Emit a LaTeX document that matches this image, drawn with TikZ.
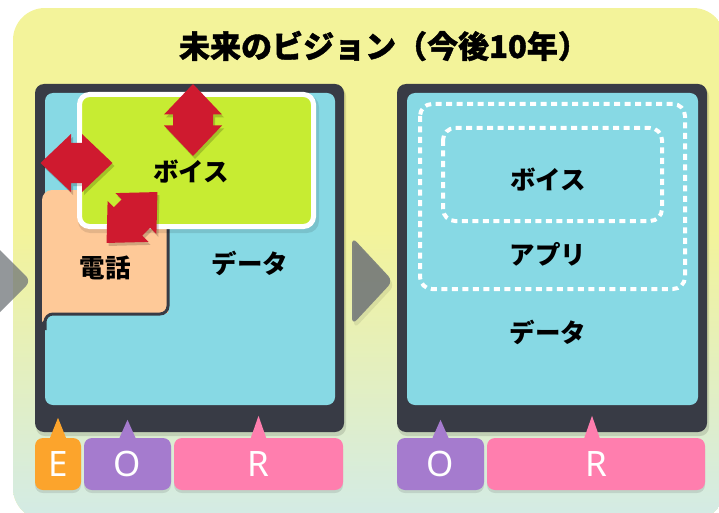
\documentclass[tikz,border=0pt]{standalone}
\usepackage{fontspec}
\setmainfont{Noto Sans}
\newfontfamily\jp{Noto Sans CJK JP}
\newfontfamily\jpheavy[BoldFeatures={FakeBold=1.3}]{Noto Sans CJK JP}
\definecolor{panel}{HTML}{383B45}
\definecolor{cyanbox}{HTML}{87D9E4}
\definecolor{lime}{HTML}{C7EC32}
\definecolor{peach}{HTML}{FEC998}
\definecolor{redarrow}{HTML}{CF1A2F}
\definecolor{tagE}{HTML}{FCA42C}
\definecolor{tagO}{HTML}{A57BCE}
\definecolor{tagR}{HTML}{FF7EAE}
\definecolor{bgtop}{HTML}{F3F39A}
\definecolor{bgbot}{HTML}{D3EBE6}
\definecolor{chev}{HTML}{6F7478}
\tikzset{
  panelbox/.style={fill=panel, rounded corners=9, minimum width=309, minimum height=348, inner sep=0},
  screen/.style={fill=cyanbox, rounded corners=8, minimum width=290, minimum height=312, inner sep=0},
  jplabel/.style={font=\jp\fontsize{25.5}{25.5}\selectfont\bfseries, text=black, inner sep=0},
  tag/.style={rounded corners=8, minimum height=52, inner sep=0, text=white, font=\fontsize{35}{35}\selectfont,
    preaction={fill=black, opacity=0.10, transform canvas={yshift=-3pt}}},
  dotbox/.style={draw=white, line width=4, dash pattern=on 6 off 4.5, rounded corners=12},
  dbl/.pic={\fill[redarrow] (36,0) -- (5.5,29) -- (5.5,20) -- (-5.5,20) -- (-5.5,29) -- (-36,0) -- (-5.5,-29) -- (-5.5,-20) -- (5.5,-20) -- (5.5,-29) -- cycle;},
  dblshadow/.pic={\fill[black, opacity=0.18] (36,0) -- (5.5,29) -- (5.5,20) -- (-5.5,20) -- (-5.5,29) -- (-36,0) -- (-5.5,-29) -- (-5.5,-20) -- (5.5,-20) -- (5.5,-29) -- cycle;},
}
\begin{document}
\begin{tikzpicture}[x=1pt,y=-1pt]
\useasboundingbox (0,0) rectangle (719,513);
\begin{scope}
\clip (0,0) rectangle (719,513);
% background
\begin{scope}
\clip[rounded corners=32] (13,8) rectangle (725,520);
\fill[bgtop] (13,8) rectangle (725,520);
\shade[top color=bgtop, bottom color=bgbot] (13,230) rectangle (725,520);
\end{scope}
% chevrons
\fill[chev, opacity=0.75, rounded corners=7] (-12,238) -- (31,281) -- (-12,324) -- cycle;
\fill[black, opacity=0.08, rounded corners=7] (354,241) -- (395,285) -- (354,329) -- cycle;
\fill[chev, opacity=0.85, rounded corners=7] (352,237) -- (393,281) -- (352,325) -- cycle;

% title
\node[font=\jpheavy\fontsize{31}{31}\selectfont\bfseries, inner sep=0] (title) at (384,46) {未来のビジョン（今後10年）};

% left panel
\fill[black, opacity=0.12, rounded corners=9] (36,87) rectangle (346,436);
\node[panelbox] (lpanel) at (189.5,258) {};
\node[screen] (lscreen) at (190,249) {};
% phone
\fill[peach] (42,322) -- (42,200) arc[start angle=180, end angle=270, radius=10] -- (168,190) -- (168,313) -- (52,313) -- (42,322) -- cycle;
\draw[panel, line width=3, rounded corners=8] (168,195) -- (168,314) -- (45,314) -- (45,330);
\node[jplabel] (phone) at (105,268) {電話};
% voice
\fill[black, opacity=0.10, rounded corners=12] (78,95) rectangle (319,233);
\node[draw=white, line width=5, fill=lime, rounded corners=10, minimum width=234, minimum height=132, inner sep=0] (lvoice) at (196.5,160.5) {};
\node[jplabel] (voicetxt) at (191,172) {ボイス};
\node[jplabel] (ldata) at (250,263) {データ};
% arrows
\pic[rotate=90] at (195,123) {dblshadow};
\pic[rotate=90] at (193,120) {dbl};
\pic at (78.5,166) {dblshadow};
\pic at (76.5,163) {dbl};
\pic[rotate=45] at (134,220.5) {dblshadow};
\pic[rotate=45] at (132,217.5) {dbl};

% left tags
\node[tag, fill=tagE, minimum width=46] (lE) at (58,464) {E};
\node[tag, fill=tagO, minimum width=87] (lO) at (127.5,464) {O};
\node[tag, fill=tagR, minimum width=169] (lR) at (258.5,464) {R};
\fill[tagE] ([xshift=-8]lE.north) -- ([yshift=20]lE.north) -- ([xshift=8]lE.north) -- cycle;
\fill[tagO] ([xshift=-8]lO.north) -- ([yshift=18]lO.north) -- ([xshift=8]lO.north) -- cycle;
\fill[tagR] ([xshift=-8,yshift=-1]lR.north) -- ([yshift=22]lR.north) -- ([xshift=8,yshift=-1]lR.north) -- cycle;

% right panel
\fill[black, opacity=0.12, rounded corners=9] (398,87) rectangle (709,436);
\node[panelbox, minimum width=310] (rpanel) at (552,258) {};
\node[screen, minimum width=291] (rscreen) at (552.5,249) {};
\draw[dotbox] (420,104) rectangle (685,289);
\draw[dotbox] (443,128) rectangle (662,221);
\node[jplabel] (rvoice) at (548,180) {ボイス};
\node[jplabel] (rapp) at (548,254) {アプリ};
\node[jplabel] (rdata) at (548,332) {データ};

% right tags
\node[tag, fill=tagO, minimum width=87] (rO) at (440.5,464) {O};
\node[tag, fill=tagR, minimum width=218] (rR) at (596,464) {R};
\fill[tagO] ([xshift=-8]rO.north) -- ([yshift=18]rO.north) -- ([xshift=8]rO.north) -- cycle;
\fill[tagR] ([xshift=-12,yshift=-1]rR.north) -- ([xshift=-4,yshift=22]rR.north) -- ([xshift=4,yshift=-1]rR.north) -- cycle;
\end{scope}
\end{tikzpicture}
\end{document}
